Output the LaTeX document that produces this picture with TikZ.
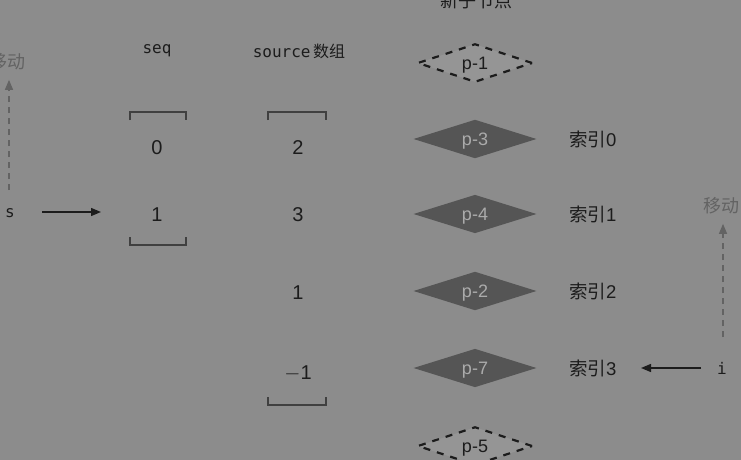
\documentclass[tikz,border=0pt]{standalone}
\usepackage{fontspec}
\setmainfont{Liberation Sans}
\setmonofont{DejaVu Sans Mono}
\newfontfamily\cjk{Noto Sans CJK SC}
\usetikzlibrary{arrows.meta, positioning, shapes.geometric}
\definecolor{bgGray}{HTML}{8C8C8C}
\definecolor{nodeDark}{HTML}{555555}
\definecolor{moveGray}{HTML}{636363}
\definecolor{nodeTxt}{HTML}{ABABAB}
\definecolor{newFill}{HTML}{959595}
\definecolor{inkDark}{HTML}{1C1C1C}

\begin{document}
\begin{tikzpicture}[x=1pt, y=-1pt,
    val/.style={font=\fontsize{20}{20}\selectfont, text=inkDark},
    head/.style={font=\ttfamily\fontsize{16}{16}\selectfont, text=inkDark},
    idx/.style={font=\fontsize{18.5}{18.5}\selectfont, text=inkDark},
    mv/.style={font=\cjk\fontsize{18}{18}\selectfont, text=moveGray},
    oldnode/.style={diamond, minimum width=123pt, minimum height=34pt, inner sep=0pt,
      text depth=0pt, fill=nodeDark, text=nodeTxt, font=\fontsize{18}{18}\selectfont},
    newnode/.style={diamond, minimum width=115pt, minimum height=35pt, inner sep=0pt,
      text depth=0pt, fill=newFill, draw=inkDark, line width=2.2pt,
      dash pattern=on 7pt off 7pt, text=inkDark, font=\fontsize{18}{18}\selectfont},
    ptr/.style={-{Triangle[length=10pt, width=8pt]}, line width=1.3pt, draw=inkDark},
    movearr/.style={-{Triangle[length=10pt, width=8pt]}, line width=1.3pt,
      draw=moveGray, dash pattern=on 6pt off 5pt},
    brk/.style={line width=1.3pt, draw=black!75}]
    \fill[bgGray] (0,0) rectangle (741,460);
    \useasboundingbox (0,0) rectangle (741,460);

    % column heads
    \node[mv, text=inkDark] (title) at (476,1) {新子节点};
    \node[head] (seqHead) at (157,51) {seq};
    \node[head] (srcHead) at (299,51) {source\,{\cjk 数组}};

    % seq
    \draw[brk] (130,120) -- (130,112) -- (186,112) -- (186,120);
    \node[val] (q0) at (157,148) {0};
    \node[val] (q1) at (157,215) {1};
    \draw[brk] (130,237) -- (130,245) -- (186,245) -- (186,237);

    % source
    \draw[brk] (268,120) -- (268,112) -- (326,112) -- (326,120);
    \foreach \v/\y [count=\i] in {2/148, 3/215, 1/293, $-$1/373}
      \node[val] (src\i) at (298,\y) {\v};
    \draw[brk] (268,397) -- (268,405) -- (326,405) -- (326,397);

    % nodes
    \node[newnode] (p1) at (475,63) {p-1};
    \foreach \p/\y [count=\i from 0] in {3/139, 4/214, 2/291, 7/368} {
      \node[oldnode] (p\p) at (475,\y) {p-\p};
      \node[idx, right=29pt of p\p] (idx\i) {{\cjk 索引}\i};
    }
    \node[newnode] (p5) at (475,446) {p-5};

    % pointer s
    \node[head] (s) at (10,213) {s};
    \node[mv] (mvS) at (8,62) {移动};
    \coordinate (sTail) at (42,212);
    \coordinate (sTip) at (101,212);
    \coordinate (mvSTail) at (9,190);
    \draw[ptr] (sTail) -- (sTip);
    \draw[movearr] (mvSTail) -- ([yshift=-6pt]mvS.south -| mvSTail);

    % pointer i
    \node[head] (i) at (722,368) {i};
    \node[mv] (mvI) at (721,206) {移动};
    \coordinate (iTail) at (701,368);
    \coordinate (mvITail) at (723,337);
    \draw[ptr] (iTail) -- (idx3.east -| 641,0);
    \draw[movearr] (mvITail) -- ([yshift=-6pt]mvI.south -| mvITail);
\end{tikzpicture}
\end{document}
